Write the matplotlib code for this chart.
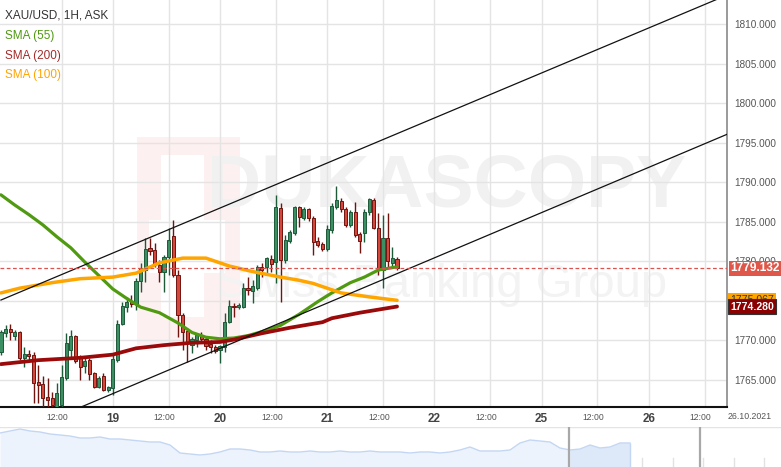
import numpy as np
import matplotlib.pyplot as plt
from matplotlib.transforms import blended_transform_factory, ScaledTranslation
from matplotlib.patches import Rectangle

plt.rcParams['font.family'] = ['Liberation Sans', 'DejaVu Sans']

# XAU/USD hourly candles, first visible candle = index 0
opens = [1768.54, 1770.94, 1771.45, 1770.56, 1771.07, 1767.78, 1768.29, 1768.16, 1764.75, 1764.49,
         1762.85, 1762.72, 1761.59, 1761.84, 1765.25, 1768.79, 1770.56, 1767.78, 1766.77, 1767.53,
         1765.88, 1764.12, 1765.51, 1763.74, 1763.99, 1767.53, 1772.08, 1774.23, 1774.99, 1774.61,
         1777.51, 1778.90, 1781.69, 1781.43, 1779.54, 1778.65, 1780.55, 1783.20, 1778.27, 1773.22,
         1771.19, 1769.42, 1770.06, 1770.69, 1770.18, 1769.55, 1769.17, 1768.79, 1769.17, 1772.33,
         1774.35, 1774.23, 1774.23, 1776.63, 1776.25, 1776.63, 1779.28, 1779.28, 1780.30, 1779.92,
         1786.74, 1780.17, 1782.57, 1783.58, 1786.87, 1785.48, 1786.62, 1785.48, 1782.57, 1782.19,
         1781.56, 1783.96, 1786.87, 1787.63, 1786.62, 1784.59, 1786.24, 1783.46, 1783.58, 1786.24,
         1787.75, 1784.21, 1778.90, 1782.95, 1779.79, 1780.30]
closes = [1771.07, 1771.45, 1771.07, 1771.07, 1767.78, 1768.29, 1768.03, 1764.62, 1764.37, 1762.72,
          1762.47, 1761.84, 1763.36, 1765.38, 1769.68, 1770.56, 1767.40, 1766.64, 1767.40, 1765.76,
          1764.12, 1765.25, 1763.74, 1764.12, 1767.65, 1772.08, 1774.35, 1774.86, 1774.61, 1777.51,
          1779.16, 1781.56, 1781.31, 1779.54, 1778.65, 1780.55, 1782.70, 1778.27, 1773.22, 1771.07,
          1769.68, 1770.18, 1770.69, 1770.18, 1769.30, 1769.17, 1768.67, 1769.30, 1772.33, 1774.35,
          1774.23, 1774.48, 1776.63, 1776.38, 1776.88, 1779.28, 1778.90, 1780.42, 1779.66, 1786.87,
          1780.17, 1782.70, 1783.71, 1786.87, 1785.60, 1786.62, 1785.48, 1782.44, 1782.06, 1781.56,
          1784.09, 1786.99, 1787.75, 1786.62, 1784.59, 1786.24, 1783.33, 1782.57, 1786.24, 1787.88,
          1784.21, 1778.90, 1782.95, 1780.04, 1780.42, 1779.132]
highs = [1771.32, 1771.95, 1772.08, 1771.32, 1771.19, 1769.17, 1768.79, 1768.54, 1766.90, 1765.51,
         1765.25, 1763.48, 1764.62, 1766.90, 1770.94, 1771.32, 1770.69, 1768.16, 1767.91, 1767.78,
         1766.01, 1765.51, 1765.88, 1764.24, 1768.41, 1772.58, 1774.86, 1775.49, 1775.74, 1777.89,
         1779.79, 1782.95, 1782.95, 1782.32, 1780.17, 1780.80, 1784.21, 1785.23, 1778.90, 1773.47,
         1771.57, 1770.44, 1770.94, 1771.07, 1770.44, 1770.06, 1769.42, 1769.42, 1773.47, 1775.11,
         1774.73, 1774.73, 1777.26, 1778.02, 1777.64, 1779.54, 1779.79, 1780.55, 1780.80, 1788.38,
         1787.37, 1783.33, 1783.96, 1786.99, 1786.99, 1786.87, 1786.74, 1785.73, 1783.08, 1782.44,
         1784.59, 1787.37, 1789.52, 1788.01, 1786.87, 1786.49, 1787.50, 1783.71, 1786.62, 1788.01,
         1788.01, 1786.11, 1785.86, 1786.11, 1781.81, 1780.55]
lows = [1768.16, 1770.44, 1770.06, 1770.06, 1767.53, 1766.64, 1767.53, 1762.09, 1762.09, 1761.21,
        1761.59, 1761.21, 1761.21, 1761.46, 1765.00, 1767.78, 1767.15, 1765.00, 1765.88, 1765.00,
        1763.99, 1763.99, 1763.61, 1763.48, 1763.10, 1767.28, 1771.95, 1773.60, 1774.23, 1773.85,
        1776.12, 1777.39, 1780.80, 1779.28, 1777.39, 1776.12, 1778.27, 1778.02, 1770.44, 1768.79,
        1767.28, 1768.41, 1769.17, 1769.68, 1768.79, 1768.41, 1768.41, 1767.15, 1768.54, 1772.21,
        1772.96, 1773.97, 1774.10, 1775.74, 1774.73, 1776.38, 1778.02, 1778.27, 1778.65, 1777.26,
        1774.86, 1779.79, 1782.32, 1783.33, 1784.34, 1785.23, 1785.10, 1780.80, 1781.81, 1781.31,
        1781.31, 1783.58, 1786.62, 1786.24, 1784.34, 1784.34, 1783.08, 1781.05, 1782.44, 1785.86,
        1784.09, 1778.27, 1776.63, 1779.16, 1779.16, 1778.90]

# moving averages (sampled along the candle index)
sma55_idx = [0, 3, 6, 9, 12, 15, 18, 21, 24, 27, 30, 34, 38, 41, 44, 47, 50, 53, 56, 60, 64, 68, 71, 75, 78, 81, 85]
sma55 = [1788.4, 1787.1, 1785.9, 1784.6, 1783.1, 1781.7, 1779.9, 1778.2, 1776.5, 1775.3, 1774.2, 1773.5,
         1772.2, 1771.0, 1770.4, 1770.2, 1770.3, 1770.6, 1771.1, 1771.9, 1773.3, 1774.9, 1776.0, 1777.3,
         1778.0, 1778.9, 1779.3]
sma200_idx = [0, 8, 17, 24, 29, 35, 41, 47, 50, 56, 62, 69, 71, 77, 85]
sma200 = [1767.0, 1767.5, 1767.8, 1768.2, 1769.0, 1769.4, 1769.7, 1769.8, 1770.1, 1770.9, 1771.6, 1772.3,
          1772.8, 1773.5, 1774.28]
sma100_idx = [0, 4, 11, 17, 24, 29, 34, 39, 44, 49, 54, 60, 64, 67, 73, 79, 85]
sma100 = [1776.0, 1776.6, 1777.3, 1777.8, 1778.0, 1778.5, 1779.8, 1780.4, 1780.4, 1779.4, 1778.7, 1778.0,
          1777.6, 1777.2, 1776.0, 1775.5, 1775.067]

# trend channel drawn on the chart
chan_idx = [0, 156]
chan_upper = [1775.1, 1813.7]
chan_lower = [1757.3, 1796.1]

last_price = 1779.132

# time axis
day_pos = [-1.6, 24, 47, 70, 93, 116, 139]
day_lab = ['17', '19', '20', '21', '22', '25', '26']
noon_pos = [13, 36, 59, 82, 105, 128, 151]

price_ticks = [1765, 1770, 1775, 1780, 1785, 1790, 1795, 1800, 1805, 1810]

# navigator overview series
nav_level = [34, 36, 38, 36, 35, 33, 32, 31, 29, 29, 30, 28, 28, 27, 26, 25, 25, 22, 14, 13,
             12, 13, 15, 18, 18, 17, 15, 15, 16, 15, 15, 16, 15, 15, 16, 15, 15, 16, 15, 15,
             15, 14, 15, 15, 14, 15, 17, 20, 16, 16, 16, 17, 24, 27, 26, 25, 19, 17, 18, 22,
             19, 20, 24, 24]
nav_window = (56.9, 70.0)

W, H = 781, 467
fig = plt.figure(figsize=(W / 100, H / 100), dpi=100)
fig.patch.set_facecolor('white')
ax = fig.add_axes([0, 60 / H, 727 / W, 407 / H])
xmin, xmax = -0.2, 155.8

green_fill, green_edge = '#3c8f62', '#1d5a38'
red_fill, red_edge = '#d4473a', '#701410'

o = np.array(opens); c = np.array(closes); hi = np.array(highs); lo = np.array(lows)
idx = np.arange(len(o))
up = c >= o
cols_fill = np.where(up, green_fill, red_fill)
cols_edge = np.where(up, green_edge, red_edge)
ax.vlines(idx, lo, hi, colors=cols_edge, lw=1.0, zorder=3)
ax.bar(idx, np.maximum(np.abs(c - o), 0.08), bottom=np.minimum(o, c), width=0.68,
       color=cols_fill, edgecolor=cols_edge, linewidth=0.7, zorder=4)

ax.plot(sma55_idx, sma55, color='#4f9a10', lw=2.3, zorder=5, solid_capstyle='round')
ax.plot(sma200_idx, sma200, color='#9b0a0a', lw=2.7, zorder=5, solid_capstyle='round')
ax.plot(sma100_idx, sma100, color='#ffa500', lw=2.5, zorder=5, solid_capstyle='round')

ax.plot(chan_idx, chan_upper, color='#111111', lw=0.9, zorder=6)
ax.plot(chan_idx, chan_lower, color='#111111', lw=0.9, zorder=6)

ax.axhline(last_price, color='#d9534f', lw=0.9, ls=(0, (3, 2)), zorder=7)

# watermark
ax.add_patch(Rectangle((0.188, 0.152), 0.142, 0.511, transform=ax.transAxes,
                       facecolor='#fdf0f0', edgecolor='none', zorder=0))
ax.add_patch(Rectangle((0.222, 0.22), 0.058, 0.40, transform=ax.transAxes,
                       facecolor='white', edgecolor='none', zorder=0.1))
ax.add_patch(Rectangle((0.205, 0.33), 0.105, 0.13, transform=ax.transAxes,
                       facecolor='white', edgecolor='none', zorder=0.1))
ax.text(0.615, 0.54, 'DUKASCOPY', transform=ax.transAxes, ha='center', va='center',
        fontsize=54, fontweight='bold', color='#f1f1f1', zorder=0.2,
        family=['Liberation Sans Narrow', 'Liberation Sans'])
ax.text(0.608, 0.30, 'Swiss Banking Group', transform=ax.transAxes, ha='center', va='center',
        fontsize=34, color='#f3f3f3', zorder=0.2,
        family=['Liberation Sans Narrow', 'Liberation Sans'])

ax.set_yticks(price_ticks)
ax.set_yticklabels([f'{v:.3f}' for v in price_ticks])
ax.yaxis.tick_right()
ax.tick_params(axis='y', length=0, pad=5, labelsize=7.2, labelcolor='#555555')

# day labels inside the view become ticks, the one left of the view is drawn half cut
vis_days = [(p, l) for p, l in zip(day_pos, day_lab) if p >= xmin]
xt = sorted([p for p, _ in vis_days] + noon_pos)
lab_of = dict(vis_days)
xl = [lab_of[p] if p in lab_of else '12:00' for p in xt]
ax.set_xticks(xt)
ax.set_xticklabels(xl)
ax.tick_params(axis='x', length=0, pad=4, labelsize=6.2, labelcolor='#555555')
shift = ScaledTranslation(-4 / 100, 0, fig.dpi_scale_trans)
for lbl in ax.get_xticklabels():
    if lbl.get_text() != '12:00':
        lbl.set_fontweight('bold')
        lbl.set_fontsize(8.5)
        lbl.set_color('#444444')
    else:
        lbl.set_transform(lbl.get_transform() + shift)

trx = blended_transform_factory(ax.transData, ax.transAxes)
for p, l in zip(day_pos, day_lab):
    if p < xmin:
        ax.text(p, -9.5 / 407, l, transform=trx, ha='center', va='center', fontsize=8.5,
                fontweight='bold', color='#444444', clip_on=False)

# limits after the ticks so the ticks do not widen the view
ax.set_xlim(xmin, xmax)
ax.set_ylim(1761.58, 1813.03)

ax.grid(True, color='#e4e4e4', lw=1.0, zorder=0.5)
ax.set_axisbelow(True)
for s in ['top', 'left']:
    ax.spines[s].set_visible(False)
ax.spines['right'].set_color('#9a9a9a')
ax.spines['right'].set_linewidth(1.4)
ax.spines['bottom'].set_color('#111111')
ax.spines['bottom'].set_linewidth(1.5)

fig.text(750 / W, 1 - 416.5 / H, '26.10.2021', ha='center', va='center', fontsize=6.3, color='#555555')

# legend
fig.text(5 / W, 1 - 15.5 / H, 'XAU/USD, 1H, ASK', ha='left', va='center', fontsize=8.5, color='#333333')
fig.text(5 / W, 1 - 36 / H, 'SMA (55)', ha='left', va='center', fontsize=8.5, color='#4f9a10')
fig.text(5 / W, 1 - 55.5 / H, 'SMA (200)', ha='left', va='center', fontsize=8.5, color='#a52a2a')
fig.text(5 / W, 1 - 75 / H, 'SMA (100)', ha='left', va='center', fontsize=8.5, color='#ffa500')

# price tags on the right axis
tr = blended_transform_factory(ax.transAxes, ax.transData)
ax.text(1.0045, sma100[-1], f'{sma100[-1]:.3f}', transform=tr, ha='left', va='center', fontsize=7.6,
        color='#333333', clip_on=False, zorder=10,
        bbox=dict(boxstyle='square,pad=0.2', fc='#ffa500', ec='none'))
ax.text(1.0045, sma200[-1], f'{sma200[-1]:.3f}', transform=tr, ha='left', va='center', fontsize=7.6,
        fontweight='bold', color='white', clip_on=False, zorder=11,
        bbox=dict(boxstyle='square,pad=0.2', fc='#8b0000', ec='#333333', lw=0.8))
ax.text(1.0045, last_price, f'{last_price:.3f}', transform=tr, ha='left', va='center', fontsize=8.6,
        fontweight='bold', color='white', clip_on=False, zorder=12,
        bbox=dict(boxstyle='square,pad=0.12', fc='#df574a', ec='none'))

# navigator
axn = fig.add_axes([0, 0, 1, 40.5 / H])
axn.set_axis_off()
nt = np.arange(len(nav_level))
nv = np.array(nav_level, dtype=float)
axn.set_xlim(0, 78.1)
axn.set_ylim(0, 40.5)
for k in range(-1, 26):
    axn.axvline(3.2 + 3.05 * k, ymin=0, ymax=0.22, color='#e2e2e2', lw=1.0, zorder=0)
axn.fill_between(nt, 0, nv, color='#edf3fc', zorder=1, lw=0)
sel = (nt >= nav_window[0])
axn.fill_between(nt[sel], 0, nv[sel], color='#dde8f9', zorder=1.5, lw=0)
axn.plot(nt, nv, color='#c3d6f3', lw=1.0, zorder=2)
axn.vlines([nt[-1]], 0, nv[-1], color='#c3d6f3', lw=1.0, zorder=2)
axn.axhline(40, color='#e4e4e4', lw=1.0)
axn.axvline(nav_window[0], color='#a8a8a8', lw=1.6, zorder=3)
axn.axvline(nav_window[1], color='#a8a8a8', lw=1.6, zorder=3)

fig.savefig('out.png', dpi=100)
